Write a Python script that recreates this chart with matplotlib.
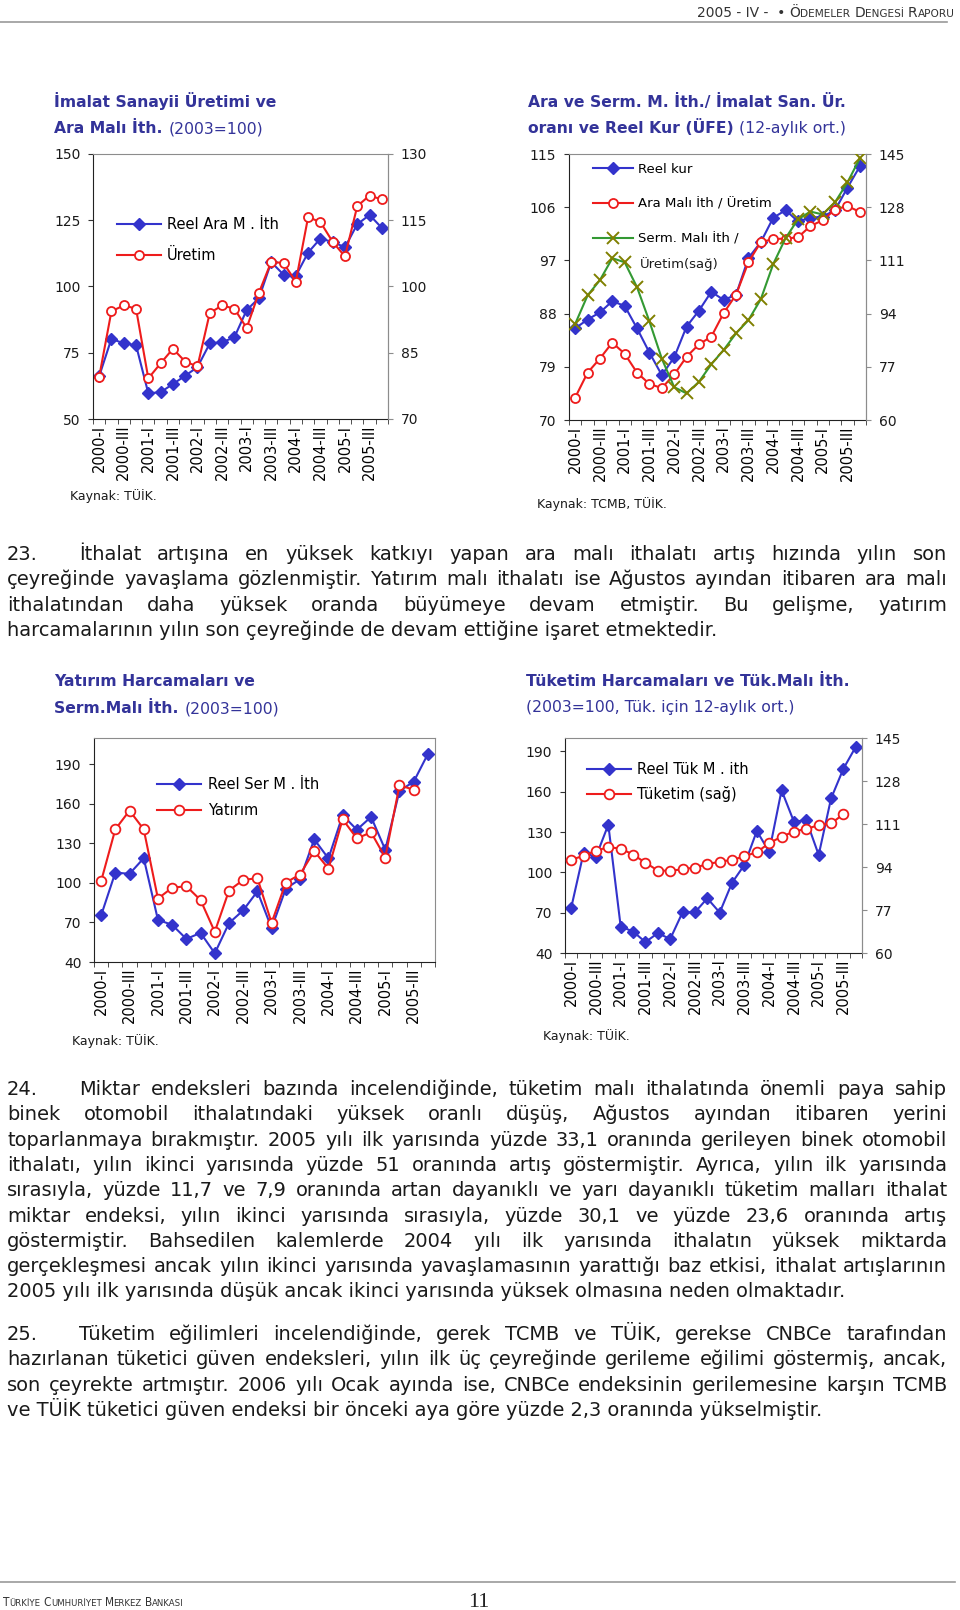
import numpy as np
import matplotlib
matplotlib.use("Agg")
import matplotlib.pyplot as plt
from matplotlib.ticker import FixedLocator

plt.rcParams["font.family"] = ["DejaVu Sans"]

W, H = 960, 1610

# 24 quarters 2000-I .. 2005-IV, every second one labelled
xlabels = ["2000-I", "2000-III", "2001-I", "2001-III", "2002-I", "2002-III",
           "2003-I", "2003-III", "2004-I", "2004-III", "2005-I", "2005-III"]

# Grafik 1: imalat sanayii uretimi ve ara mali ithalati (2003=100)
reel_ara_ith = [66.1, 80.3, 78.5, 77.9, 59.7, 60.1, 63.2, 66.3, 69.6, 78.5, 79.0, 80.8,
                91.1, 95.6, 109.2, 104.5, 104.0, 112.8, 118.1, 116.8, 114.8, 123.5, 127.0, 122.1]
uretim = [79.5, 94.4, 95.7, 95.0, 79.2, 82.6, 85.9, 83.0, 81.9, 94.0, 95.7, 95.0,
          90.6, 98.6, 105.6, 105.3, 101.1, 115.7, 114.6, 110.1, 106.8, 118.2, 120.6, 119.7]

# Grafik 2: ithalat / uretim oranlari ve reel kur
reel_kur = [85.5, 87.0, 88.2, 90.1, 89.3, 85.5, 81.4, 77.6, 80.6, 85.8, 88.5, 91.7,
            90.3, 91.2, 97.4, 100.1, 104.2, 105.5, 103.6, 104.2, 104.4, 105.5, 109.3, 112.9]
ara_uretim = [73.8, 78.0, 80.4, 83.1, 81.2, 78.0, 76.1, 75.4, 77.7, 80.7, 82.8, 84.1,
              88.1, 91.2, 96.7, 100.1, 100.6, 100.7, 100.9, 102.8, 103.8, 105.6, 106.2, 105.2]
serm_uretim = [90.7, 99.8, 104.7, 111.7, 110.4, 102.4, 91.5, 79.6, 70.5, 68.5, 72.2, 77.8,
               82.4, 87.7, 91.9, 98.6, 109.8, 118.1, 124.1, 126.6, 125.7, 129.6, 135.9, 143.6]

# Grafik 3: yatirim harcamalari ve sermaye mali ithalati
reel_ser_ith = [75.3, 107.9, 106.9, 118.8, 72.0, 68.2, 57.5, 62.1, 46.6, 69.5, 79.2, 93.6,
                65.7, 95.7, 102.8, 133.1, 118.6, 151.4, 140.4, 150.1, 125.2, 169.9, 176.8, 197.9]
yatirim = [101.3, 140.7, 154.9, 140.7, 88.1, 96.4, 97.5, 87.0, 62.9, 94.2, 102.3, 103.6,
           69.7, 100.3, 106.4, 124.2, 110.9, 148.3, 133.8, 138.4, 119.3, 174.2, 170.7]

# Grafik 4: tuketim harcamalari ve tuketim mali ithalati
reel_tuk_ith = [73.6, 114.5, 111.6, 135.5, 59.7, 56.0, 48.1, 54.8, 50.4, 70.3, 70.3, 80.7,
                70.1, 92.3, 105.6, 130.8, 115.3, 161.1, 137.7, 138.9, 113.0, 155.0, 177.2, 193.5]
tuketim = [96.9, 98.4, 100.5, 101.8, 101.3, 98.9, 95.7, 92.6, 92.5, 93.1, 93.8, 95.1,
           96.1, 96.8, 98.2, 99.9, 103.4, 106.0, 108.0, 109.1, 110.5, 111.2, 114.9]

para23 = ["İthalat artışına en yüksek katkıyı yapan ara malı ithalatı artış hızında yılın son",
          "çeyreğinde yavaşlama gözlenmiştir. Yatırım malı ithalatı ise Ağustos ayından itibaren ara malı",
          "ithalatından daha yüksek oranda büyümeye devam etmiştir. Bu gelişme, yatırım",
          "harcamalarının yılın son çeyreğinde de devam ettiğine işaret etmektedir."]
para24 = ["Miktar endeksleri bazında incelendiğinde, tüketim malı ithalatında önemli paya sahip",
          "binek otomobil ithalatındaki yüksek oranlı düşüş, Ağustos ayından itibaren yerini",
          "toparlanmaya bırakmıştır. 2005 yılı ilk yarısında yüzde 33,1 oranında gerileyen binek otomobil",
          "ithalatı, yılın ikinci yarısında yüzde 51 oranında artış göstermiştir. Ayrıca, yılın ilk yarısında",
          "sırasıyla, yüzde 11,7 ve 7,9 oranında artan dayanıklı ve yarı dayanıklı tüketim malları ithalat",
          "miktar endeksi, yılın ikinci yarısında sırasıyla, yüzde 30,1 ve yüzde 23,6 oranında artış",
          "göstermiştir. Bahsedilen kalemlerde 2004 yılı ilk yarısında ithalatın yüksek miktarda",
          "gerçekleşmesi ancak yılın ikinci yarısında yavaşlamasının yarattığı baz etkisi, ithalat artışlarının",
          "2005 yılı ilk yarısında düşük ancak ikinci yarısında yüksek olmasına neden olmaktadır."]
para25 = ["Tüketim eğilimleri incelendiğinde, gerek TCMB ve TÜİK, gerekse CNBCe tarafından",
          "hazırlanan tüketici güven endeksleri, yılın ilk üç çeyreğinde gerileme eğilimi göstermiş, ancak,",
          "son çeyrekte artmıştır. 2006 yılı Ocak ayında ise, CNBCe endeksinin gerilemesine karşın TCMB",
          "ve TÜİK tüketici güven endeksi bir önceki aya göre yüzde 2,3 oranında yükselmiştir."]

BLUE = "#3333cc"
RED = "#ee1c1c"
GREEN = "#339933"
OLIVE = "#808000"
NAVY = "#333399"
TXT = "#1a1a1a"
GRAY = "#8c8c8c"

fig = plt.figure(figsize=(W / 100, H / 100), dpi=100)
renderer = fig.canvas.get_renderer()


def put(x, y, s, **kw):
    kw.setdefault("va", "baseline")
    kw.setdefault("color", TXT)
    return fig.text(x / W, 1 - y / H, s, **kw)


def width(t):
    return t.get_window_extent(renderer).width


def fit(s, target, base=10, **kw):
    t = put(0, 0, s, fontsize=base, **kw)
    w = width(t)
    t.remove()
    return base * target / w


def run(x, y, pieces, **common):
    for s, kw, gap in pieces:
        t = put(x, y, s, **common, **kw)
        x += width(t) + gap
    return x


def justify(x0, x1, y, line, fs):
    words = line.split()
    ts = [put(0, y, w, fontsize=fs) for w in words]
    ws = [width(t) for t in ts]
    gap = (x1 - x0 - sum(ws)) / (len(words) - 1)
    x = x0
    for t, w in zip(ts, ws):
        t.set_x(x / W)
        x += w + gap


def add_ax(l, t, r, b):
    return fig.add_axes([l / W, 1 - b / H, (r - l) / W, (b - t) / H])


def setup(ax, ylim, yticks):
    ax.set_xlim(-0.5, 23.5)
    ax.set_ylim(*ylim)
    ax.set_yticks(list(yticks))
    ax.set_xticks(range(0, 24, 2))
    ax.set_xticklabels(xlabels, rotation=90, va="top", ha="center", fontsize=10.5)
    ax.xaxis.set_minor_locator(FixedLocator(np.arange(-0.5, 24, 1)))
    ax.tick_params(axis="x", which="major", length=0, pad=4)
    ax.tick_params(axis="x", which="minor", length=3.6, direction="out", color="#333")
    ax.tick_params(axis="y", length=3.6, direction="out", labelsize=10, pad=5.5,
                   color="#333", labelcolor=TXT)
    for s in ("top", "right"):
        ax.spines[s].set_color(GRAY)
    for s in ("left", "bottom"):
        ax.spines[s].set_color("#222")
    ax.patch.set_alpha(0)


def twin(ax, ylim, yticks):
    a = ax.twinx()
    a.set_ylim(*ylim)
    a.set_yticks(list(yticks))
    a.tick_params(axis="y", length=3.6, direction="out", labelsize=10, pad=5.5,
                  color=GRAY, labelcolor=TXT)
    for s in ("left", "top", "bottom"):
        a.spines[s].set_visible(False)
    a.spines["right"].set_color(GRAY)
    return a


def blue_line(ax, y, label, ms=6):
    return ax.plot(range(len(y)), y, color=BLUE, lw=1.5, marker="D", ms=ms,
                   mfc=BLUE, mec=BLUE, label=label)[0]


def red_line(ax, y, label, ms=6.5):
    return ax.plot(range(len(y)), y, color=RED, lw=1.5, marker="o", ms=ms,
                   mfc="white", mec=RED, mew=1.3, label=label)[0]


def legend(ax, handles, x, ytop, fs, spacing, pad=0.4):
    ax.legend(handles=handles, loc="upper left", bbox_to_anchor=(x / W, 1 - ytop / H),
              bbox_transform=fig.transFigure, frameon=False, fontsize=fs,
              borderpad=0, borderaxespad=0, handlelength=3, handletextpad=pad,
              labelspacing=spacing, numpoints=1)


# ---------------- charts ----------------
fs_t = fit("İmalat Sanayii Üretimi ve", 199, fontweight="bold") * 1.12

# 1
ax1 = add_ax(93, 154, 388, 419)
setup(ax1, (50, 150), range(50, 151, 25))
ax1r = twin(ax1, (70, 130), range(70, 131, 15))
h1 = blue_line(ax1, reel_ara_ith, "Reel Ara M . İth")
h2 = red_line(ax1r, uretim, "Üretim")
legend(ax1r, [h1, h2], 117, 217, 10.5, 1.1)
put(54, 106.7, "İmalat Sanayii Üretimi ve", fontsize=fs_t, fontweight="bold", color=NAVY)
run(54, 133.3, [("Ara Malı İth.", dict(fontweight="bold"), 6),
                ("(2003=100)", {}, 0)], fontsize=fs_t, color=NAVY)
put(70, 500, "Kaynak: TÜİK.", fontsize=9)

# 2
ax2 = add_ax(569, 154, 866, 420)
setup(ax2, (70, 115), range(70, 116, 9))
ax2r = twin(ax2, (60, 145), range(60, 146, 17))
g1 = blue_line(ax2, reel_kur, "Reel kur")
g2 = red_line(ax2, ara_uretim, "Ara Malı İth / Üretim")
g3 = ax2r.plot(range(len(serm_uretim)), serm_uretim, color=GREEN, lw=1.5, marker="x",
               ms=8, mec=OLIVE, mew=1.4, label="Serm. Malı İth /")[0]
legend(ax2r, [g1, g2, g3], 593, 163, 9.5, 1.65)
put(640, 268, "Üretim(sağ)", fontsize=9.5)
put(528, 106.7, "Ara ve Serm. M. İth./ İmalat San. Ür.", fontsize=fs_t,
    fontweight="bold", color=NAVY)
run(528, 133.3, [("oranı ve Reel Kur (ÜFE)", dict(fontweight="bold"), 5),
                 ("(12-aylık ort.)", {}, 0)], fontsize=fs_t, color=NAVY)
put(537, 508, "Kaynak: TCMB, TÜİK.", fontsize=9)

# 3
ax3 = add_ax(94, 738, 435, 962)
setup(ax3, (40, 210), range(40, 191, 30))
k1 = blue_line(ax3, reel_ser_ith, "Reel Ser M . İth", ms=6.5)
k2 = red_line(ax3, yatirim, "Yatırım", ms=7)
legend(ax3, [k1, k2], 157, 777, 10.5, 0.75, pad=0.5)
put(54, 686, "Yatırım Harcamaları ve", fontsize=fs_t, fontweight="bold", color=NAVY)
run(54, 713.3, [("Serm.Malı İth.", dict(fontweight="bold"), 6),
                ("(2003=100)", {}, 0)], fontsize=fs_t, color=NAVY)
put(72, 1045, "Kaynak: TÜİK.", fontsize=9)

# 4
ax4 = add_ax(565, 738, 862, 953)
setup(ax4, (40, 200), range(40, 191, 30))
ax4r = twin(ax4, (60, 145), range(60, 146, 17))
m1 = blue_line(ax4, reel_tuk_ith, "Reel Tük M . ith", ms=6.5)
m2 = red_line(ax4r, tuketim, "Tüketim (sağ)", ms=7)
legend(ax4r, [m1, m2], 587, 762, 10.5, 0.6, pad=0.45)
put(526, 686, "Tüketim Harcamaları ve Tük.Malı İth.", fontsize=fs_t,
    fontweight="bold", color=NAVY)
put(526, 711.7, "(2003=100, Tük. için 12-aylık ort.)", fontsize=fs_t, color=NAVY)
put(543, 1040, "Kaynak: TÜİK.", fontsize=9)

# ---------------- body text ----------------
fs_b = fit(para24[-1], 837)
X0, X1, XI = 7, 947, 79
LS = 25.3


def paragraph(num, lines, y0):
    put(X0, y0, num, fontsize=fs_b)
    for i, line in enumerate(lines):
        y = y0 + i * LS
        if i == len(lines) - 1:
            put(X0 if i else XI, y, line, fontsize=fs_b)
        else:
            justify(XI if i == 0 else X0, X1, y, line, fs_b)


paragraph("23.", para23, 560)
paragraph("24.", para24, 1095)
paragraph("25.", para25, 1340)

# ---------------- header / footer ----------------
fig.add_artist(plt.Line2D([0, 947 / W], [1 - 21.7 / H] * 2, color="#9a9a9a", lw=1.2))
fig.add_artist(plt.Line2D([0, 955 / W], [1 - 1582 / H] * 2, color="#9a9a9a", lw=1.2))

big, small = dict(fontsize=10), dict(fontsize=7.6)
run(697, 17.3, [("2005 - IV -  •", big, 4), ("Ö", big, 0), ("DEMELER", small, 4),
                ("D", big, 0), ("ENGESİ", small, 4), ("R", big, 0), ("APORU", small, 0)],
    color="#333")

big, small = dict(fontsize=8.5), dict(fontsize=6.8)
run(3, 1606, [("T", big, 0), ("ÜRKİYE", small, 3), ("C", big, 0), ("UMHURİYET", small, 3),
              ("M", big, 0), ("ERKEZ", small, 3), ("B", big, 0), ("ANKASI", small, 0)],
    color="#333", fontstretch="condensed")
put(479, 1607, "11", fontsize=16, ha="center", family="Liberation Serif", color="#222")

fig.savefig("out.png", dpi=100)
